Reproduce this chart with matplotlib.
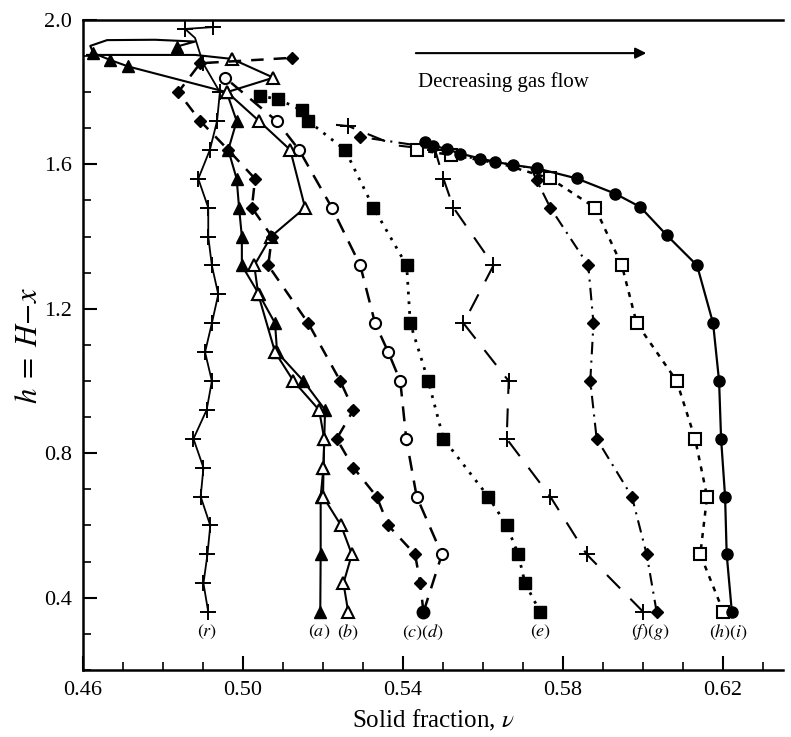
import matplotlib
matplotlib.use('Agg')
import matplotlib.pyplot as plt
from matplotlib.ticker import MultipleLocator

plt.rcParams['font.family'] = ['Liberation Serif', 'DejaVu Serif']
plt.rcParams['mathtext.fontset'] = 'stix'

# (r) crosses, solid
r_h = [0.36, 0.44, 0.52, 0.60, 0.68, 0.76, 0.84, 0.92, 1.00, 1.08, 1.16, 1.24, 1.32, 1.40,
       1.48, 1.56, 1.64, 1.72, 1.80, 1.88, 1.95, 1.975, 1.98]
r_v = [0.4913, 0.4901, 0.4911, 0.4918, 0.4894, 0.4901, 0.4876, 0.4909, 0.4922, 0.4905, 0.4922,
       0.4938, 0.4922, 0.4913, 0.4913, 0.4888, 0.4917, 0.4935, 0.4942, 0.4900, 0.4880, 0.4855, 0.4925]

# (a) filled triangles, solid
a_h = [0.36, 0.52, 0.68, 0.76, 0.84, 0.92, 1.00, 1.08, 1.16, 1.24, 1.32, 1.40, 1.48, 1.56, 1.64,
       1.72, 1.80, 1.871, 1.889, 1.908, 1.928, 1.944, 1.945, 1.940, 1.926]
a_v = [0.5193, 0.5194, 0.5194, 0.5201, 0.5203, 0.5205, 0.5151, 0.5085, 0.5080, 0.5040, 0.4997,
       0.4997, 0.4990, 0.4984, 0.4963, 0.4984, 0.4959, 0.4713, 0.4668, 0.4626, 0.4618, 0.4660,
       0.4780, 0.4880, 0.4834]

# (b) open triangles, solid
b_h = [0.36, 0.44, 0.52, 0.60, 0.68, 0.76, 0.84, 0.92, 1.00, 1.08, 1.24, 1.32, 1.40, 1.48, 1.64,
       1.72, 1.80, 1.84, 1.892, 1.903, 1.903]
b_v = [0.5263, 0.5251, 0.5272, 0.5245, 0.5200, 0.5201, 0.5203, 0.5190, 0.5126, 0.5080, 0.5038,
       0.5028, 0.5070, 0.5155, 0.5118, 0.5040, 0.4960, 0.5076, 0.4972, 0.4880, 0.4610]

# (c) filled diamonds, dashed
c_h = [0.36, 0.44, 0.52, 0.60, 0.68, 0.76, 0.84, 0.92, 1.00, 1.16, 1.32, 1.40, 1.48, 1.56, 1.64,
       1.72, 1.80, 1.88, 1.895]
c_v = [0.5451, 0.5443, 0.5430, 0.5363, 0.5334, 0.5276, 0.5234, 0.5276, 0.5243, 0.5163, 0.5063,
       0.5072, 0.5022, 0.5030, 0.4963, 0.4893, 0.4838, 0.4893, 0.5122]

# (d) open circles, dashed
d_h = [0.36, 0.52, 0.68, 0.84, 1.00, 1.08, 1.16, 1.32, 1.48, 1.64, 1.72, 1.84]
d_v = [0.5451, 0.5497, 0.5434, 0.5408, 0.5393, 0.5363, 0.5330, 0.5293, 0.5222, 0.5140, 0.5084, 0.4955]

# (e) filled squares, dotted
e_h = [0.36, 0.44, 0.52, 0.60, 0.68, 0.84, 1.00, 1.16, 1.32, 1.48, 1.64, 1.72, 1.75, 1.78, 1.79]
e_v = [0.5743, 0.5705, 0.5688, 0.5659, 0.5613, 0.5501, 0.5463, 0.5418, 0.5409, 0.5326, 0.5255,
       0.5163, 0.5147, 0.5088, 0.5043]

# (f) crosses, long dash
f_h = [0.36, 0.52, 0.68, 0.84, 1.00, 1.16, 1.32, 1.48, 1.56, 1.64, 1.653, 1.706, 1.713]
f_v = [0.6001, 0.5859, 0.5768, 0.5659, 0.5664, 0.5551, 0.5626, 0.5526, 0.5501, 0.5480, 0.5380,
       0.5263, 0.5200]

# (g) filled diamonds, dash-dot
g_h = [0.36, 0.52, 0.68, 0.84, 1.00, 1.16, 1.32, 1.48, 1.556, 1.59, 1.62, 1.65, 1.676]
g_v = [0.6034, 0.6009, 0.5972, 0.5884, 0.5868, 0.5876, 0.5863, 0.5768, 0.5734, 0.5720, 0.5560,
       0.5450, 0.5293]

# (h) open squares, short dashes
h_h = [0.36, 0.52, 0.68, 0.84, 1.00, 1.16, 1.32, 1.48, 1.561, 1.60, 1.626, 1.64]
h_v = [0.6201, 0.6143, 0.6160, 0.6130, 0.6084, 0.5984, 0.5947, 0.5880, 0.5768, 0.5650, 0.5521, 0.5434]

# (i) filled circles, solid
i_h = [0.36, 0.52, 0.68, 0.84, 1.00, 1.16, 1.32, 1.404, 1.482, 1.519, 1.561, 1.589, 1.598, 1.607,
       1.616, 1.630, 1.642, 1.652, 1.662]
i_v = [0.6222, 0.6209, 0.6205, 0.6195, 0.6190, 0.6175, 0.6135, 0.6059, 0.5993, 0.5930, 0.5834,
       0.5734, 0.5676, 0.5630, 0.5593, 0.5543, 0.5509, 0.5476, 0.5455]

labels = ['(r)', '(a)', '(b)', '(c)(d)', '(e)', '(f)(g)', '(h) (i)']
label_v = [0.4910, 0.5190, 0.5262, 0.5450, 0.5745, 0.6020, 0.6215]

fig = plt.figure(figsize=(7.91, 7.37), dpi=100)
ax = fig.add_axes([0.105, 0.091, 0.885, 0.882])

k = 'black'


def skip(n, drop):
    # marker indices, leaving out the connecting points
    return [j for j in range(n) if j not in drop]


ax.plot(r_v, r_h, '-', color=k, lw=1.3, marker='+', ms=11, mew=1.4,
        markevery=skip(len(r_h), [20]))
ax.plot(a_v, a_h, '-', color=k, lw=1.5, marker='^', ms=8, mfc=k,
        markevery=skip(len(a_h), [20, 21, 22, 23]))
ax.plot(b_v, b_h, '-', color=k, lw=1.5, marker='^', ms=8, mfc='white', mew=1.5,
        markevery=skip(len(b_h), [19, 20]))
ax.plot(c_v, c_h, color=k, lw=1.8, ls=(0, (5, 4)), marker='D', ms=6, mfc=k)
ax.plot(d_v, d_h, color=k, lw=1.8, ls=(0, (6, 4)), marker='o', ms=8, mfc='white', mew=1.5,
        markevery=skip(len(d_h), [0]))
# shared bottom point of (c) and (d) is drawn filled
ax.plot(d_v[:1], d_h[:1], 'o', color=k, ms=9)
ax.plot(e_v, e_h, color=k, lw=2.0, ls=(0, (1, 2.5)), marker='s', ms=8, mfc=k)
ax.plot(f_v, f_h, color=k, lw=1.5, ls=(0, (9, 7)), marker='+', ms=11, mew=1.4,
        markevery=skip(len(f_h), [10, 12]))
ax.plot(g_v, g_h, color=k, lw=1.5, ls=(0, (6, 3, 1, 3)), marker='D', ms=6, mfc=k,
        markevery=skip(len(g_h), [9, 10, 11]))
ax.plot(h_v, h_h, color=k, lw=1.8, ls=(0, (2, 2.5)), marker='s', ms=8, mfc='white', mew=1.5,
        markevery=skip(len(h_h), [9]))
ax.plot(i_v, i_h, '-', color=k, lw=1.6, marker='o', ms=8, mfc=k)

for lab, v in zip(labels, label_v):
    ax.text(v, 0.305, '$' + lab + '$', ha='center', va='center', fontsize=13)

ax.annotate('', xy=(0.6015, 1.908), xytext=(0.5425, 1.908),
            arrowprops=dict(arrowstyle='-|>', color=k, lw=1.5, mutation_scale=16))
ax.text(0.565, 1.828, 'Decreasing gas flow', ha='center', va='center', fontsize=15)

ax.set_xlim(0.46, 0.635)
ax.set_ylim(0.2, 2.0)
ax.xaxis.set_minor_locator(MultipleLocator(0.01))
ax.yaxis.set_minor_locator(MultipleLocator(0.1))
ax.set_xticks([0.46, 0.50, 0.54, 0.58, 0.62])
ax.set_xticklabels(['0.46', '0.50', '0.54', '0.58', '0.62'])
ax.set_yticks([0.4, 0.8, 1.2, 1.6, 2.0])
ax.set_yticklabels(['0.4', '0.8', '1.2', '1.6', '2.0'])
ax.tick_params(which='major', direction='in', length=10, width=1.5, labelsize=16, pad=8,
               top=False, right=False)
ax.tick_params(which='minor', direction='in', length=6, width=1.2, top=False, right=False)
ax.spines['right'].set_visible(False)
for s in ['left', 'bottom', 'top']:
    ax.spines[s].set_linewidth(1.8)

ax.set_xlabel(r'Solid fraction, $\nu$', fontsize=18, labelpad=6)
ax.set_ylabel(r'$h\;=\;H\!-\!x$', fontsize=22, labelpad=0)

fig.savefig('out.png', dpi=100)
